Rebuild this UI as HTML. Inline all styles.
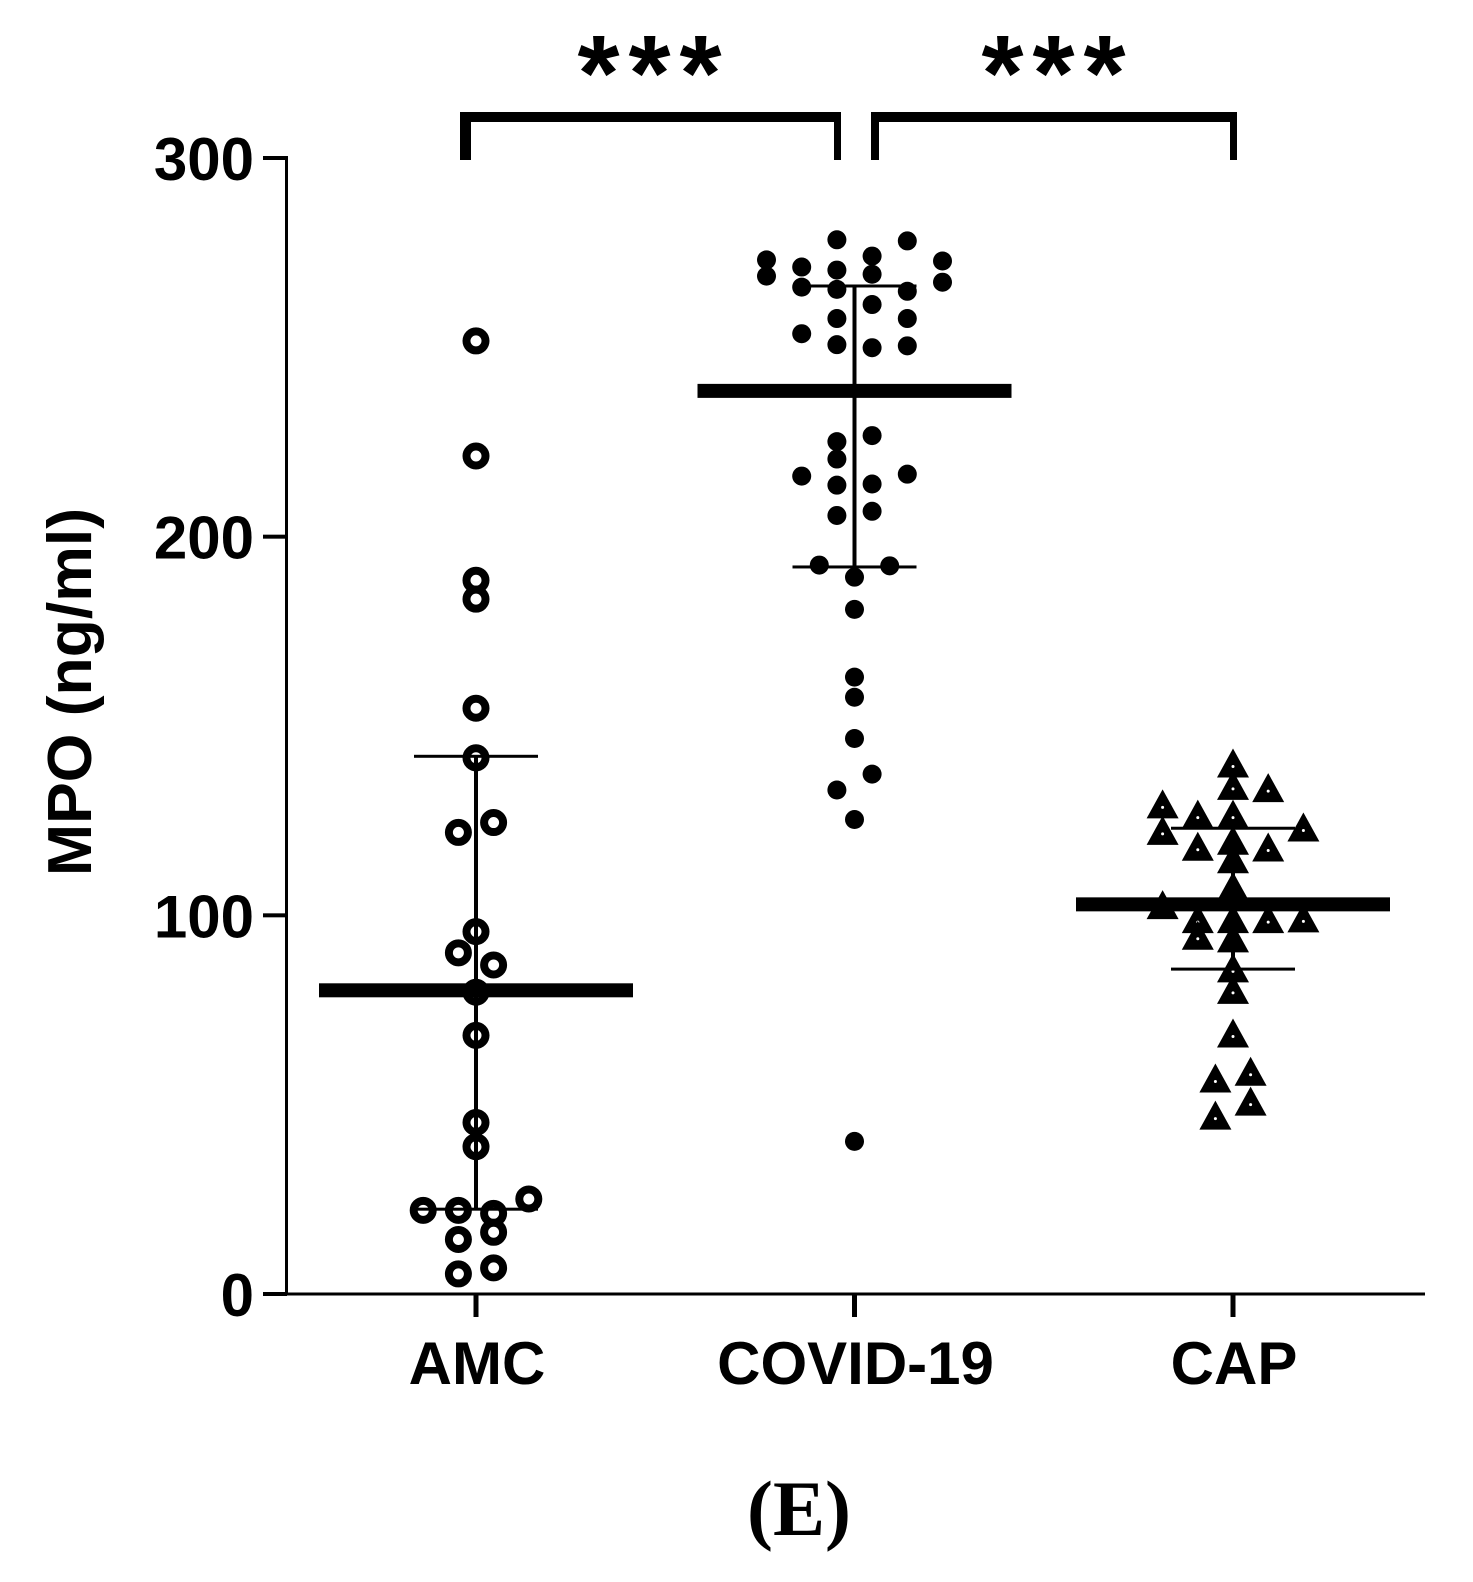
<!DOCTYPE html>
<html lang="en">
<head>
<meta charset="utf-8">
<title>MPO (ng/ml) by group</title>
<style>
html,body{margin:0;padding:0;background:#fff;}
svg{display:block;}
text{font-family:"Liberation Sans",sans-serif;font-weight:bold;fill:#000;}
</style>
</head>
<body>
<svg id="chart" width="1473" height="1582" viewBox="0 0 1473 1582" xmlns="http://www.w3.org/2000/svg">
  <rect x="0" y="0" width="1473" height="1582" fill="#fff"/>
  <g id="points"></g>
  <g id="stats"></g>
  <g id="axes"></g>
  <text transform="translate(91 692) rotate(-90)" text-anchor="middle" font-size="62.5">MPO (ng/ml)</text>

  <g fill="#000">
    <rect x="460" y="112" width="11" height="48"/>
    <rect x="460" y="112" width="381" height="10"/>
    <rect x="834" y="112" width="7" height="48"/>
  </g>
  <g fill="#000">
    <rect x="871" y="112" width="8" height="48"/>
    <rect x="871" y="112" width="366" height="10"/>
    <rect x="1230" y="112" width="7" height="48"/>
  </g>
  <text x="654" y="110" text-anchor="middle" font-size="108" letter-spacing="9">***</text>
  <text x="1058" y="110" text-anchor="middle" font-size="108" letter-spacing="9">***</text>
  <text x="799" y="1535" text-anchor="middle" font-size="78" style="font-family:'Liberation Serif',serif;">(E)</text>
</svg>
<script>
// Chart data
var categories = ["AMC", "COVID-19", "CAP"];
var yTicks = [0, 100, 200, 300];

var amcValues = [251.7, 221.3, 188.5, 183.5, 154.7, 141.6, 121.9, 124.5, 95.7, 90.1, 86.9, 79.7, 68.3, 45.3, 38.9, 22.1, 22.1, 21.3, 25.1, 14.4, 16.3, 5.3, 6.9];
var amcSlots = [0, 0, 0, 0, 0, 0, -1, 1, 0, -1, 1, 0, 0, 0, 0, -3, -1, 1, 3, -1, 1, -1, 1];

var covidValues = [278.4, 274.1, 278.1, 273.1, 271.2, 270.4, 269.3, 272.8, 268.8, 267.2, 265.9, 265.3, 264.8, 261.3, 257.6, 257.6, 253.6, 250.7, 249.9, 250.4, 226.7, 225.1, 220.5, 216, 216.5, 213.6, 213.9, 205.6, 206.7, 192.5, 192.3, 189.3, 180.8, 162.9, 157.6, 146.7, 137.3, 133.1, 125.3, 40.3];
var covidSlots = [-1, 1, 3, -5, -3, -1, 1, 5, -5, 5, -3, -1, 3, 1, -1, 3, -3, -1, 1, 3, 1, -1, -1, -3, 3, -1, 1, -1, 1, -2, 2, 0, 0, 0, 0, 0, 1, -1, 0, 0];

var capValues = [140.1, 134.2, 133.6, 129.3, 126.6, 126.6, 122.3, 123.2, 118.1, 117.9, 119.7, 114.8, 107.5, 102.7, 99, 99, 99, 99.2, 94.6, 93.9, 86, 80.3, 68.8, 56.9, 58.7, 50.8, 47.1];
var capSlots = [0, 0, 2, -4, -2, 0, -4, 4, -2, 2, 0, 0, 0, -4, -2, 0, 2, 4, -2, 0, 0, 0, 0, -1, 1, 1, -1];

var means = [80.2, 238.5, 102.9];
var upperBars = [142, 266.2, 123];
var lowerBars = [22.4, 192, 85.8];

// Axis functions
function xScale(catIndex, slot) {
  return 476 + catIndex * 378.5 + (slot || 0) * 17.6;
}
function yScale(value) {
  return 1294 - value * (1294 - 158) / 300;
}

var NS = "http://www.w3.org/2000/svg";
function make(tag, attrs, parent) {
  var el = document.createElementNS(NS, tag);
  for (var k in attrs) { el.setAttribute(k, attrs[k]); }
  parent.appendChild(el);
  return el;
}

var pointsLayer = document.getElementById("points");
var statsLayer = document.getElementById("stats");
var axesLayer = document.getElementById("axes");

// AMC: open circles
amcValues.forEach(function (v, i) {
  var c = make("circle", {cx: xScale(0, amcSlots[i]), cy: yScale(v), r: 9.5, fill: "#fff", stroke: "#000", "stroke-width": 8}, pointsLayer);
  
  
});

// COVID-19: filled circles
covidValues.forEach(function (v, i) {
  var c = make("circle", {cx: xScale(1, covidSlots[i]), cy: yScale(v), r: 9.5, fill: "#000"}, pointsLayer);
  
  
});

// CAP: triangles with a pinhole centre
capValues.forEach(function (v, i) {
  var cx = xScale(2, capSlots[i]);
  var cy = yScale(v);
  var g = make("g", {}, pointsLayer);
  
  
  make("path", {d: "M" + cx + " " + (cy - 15) + "L" + (cx + 16) + " " + (cy + 14) + "L" + (cx - 16) + " " + (cy + 14) + "Z", fill: "#000"}, g);
  make("circle", {cx: cx, cy: cy + 3, r: 1.5, fill: "#fff"}, g);
});

// Means and error bars
categories.forEach(function (name, i) {
  var cx = xScale(i, 0);
  var stem = make("rect", {x: cx - 2, y: yScale(upperBars[i]), width: 4, height: yScale(lowerBars[i]) - yScale(upperBars[i]), fill: "#000"}, statsLayer);
  
  
  var up = make("rect", {x: cx - 62, y: yScale(upperBars[i]) - 1.5, width: 124, height: 3, fill: "#000"}, statsLayer);
  
  
  var low = make("rect", {x: cx - 62, y: yScale(lowerBars[i]) - 1.5, width: 124, height: 3, fill: "#000"}, statsLayer);
  
  
  var mean = make("rect", {x: cx - 157, y: yScale(means[i]) - 7, width: 314, height: 14, fill: "#000"}, statsLayer);
  
  
});

// Axes
var yLine = make("rect", {x: 285, y: yScale(300) - 2, width: 3, height: yScale(0) - yScale(300) + 3.5, fill: "#000"}, axesLayer);


var xLine = make("rect", {x: 285, y: yScale(0) - 1.5, width: 1140, height: 3, fill: "#000"}, axesLayer);



yTicks.forEach(function (t) {
  var y = yScale(t);
  var mark = make("rect", {x: 263, y: y - 2, width: 24, height: 4, fill: "#000"}, axesLayer);
  
  
  var label = make("text", {x: 254, y: y + 22, "text-anchor": "end", "font-size": 60}, axesLayer);
  
  
  label.textContent = String(t);
});

categories.forEach(function (name, i) {
  var x = xScale(i, 0);
  var mark = make("rect", {x: x - 2.5, y: yScale(0), width: 5, height: 23, fill: "#000"}, axesLayer);
  
  
  var label = make("text", {x: x + 1, y: 1384, "text-anchor": "middle", "font-size": 60}, axesLayer);
  
  
  label.textContent = name;
});
</script>
</body>
</html>
